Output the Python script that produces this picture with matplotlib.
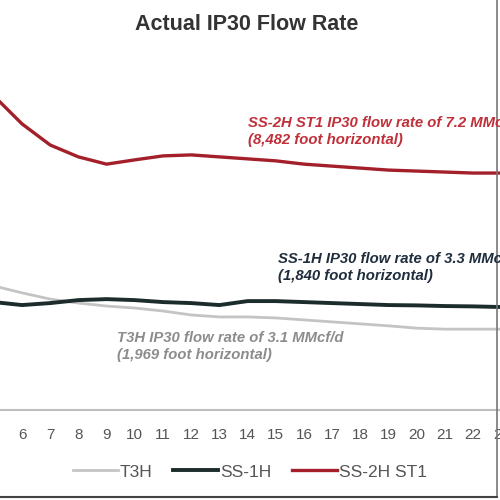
import matplotlib
matplotlib.use("Agg")
import matplotlib.pyplot as plt

plt.rcParams['font.family'] = ['Liberation Sans', 'DejaVu Sans']

# months on production (visible part of the chart)
months = [5, 6, 7, 8, 9, 10, 11, 12, 13, 14, 15, 16, 17, 18, 19, 20, 21, 22, 23]

# flow rate, MMcf/d
t3h = [3.76, 3.55, 3.36, 3.24, 3.15, 3.09, 3.00, 2.88, 2.82, 2.82, 2.79, 2.73,
       2.67, 2.61, 2.55, 2.48, 2.45, 2.45, 2.45]
ss1h = [3.27, 3.18, 3.24, 3.33, 3.36, 3.33, 3.27, 3.24, 3.18, 3.30, 3.30, 3.27,
        3.24, 3.21, 3.18, 3.17, 3.15, 3.14, 3.12]
ss2h = [9.52, 8.67, 8.03, 7.67, 7.45, 7.58, 7.70, 7.73, 7.67, 7.61, 7.55, 7.45,
        7.39, 7.33, 7.27, 7.24, 7.21, 7.18, 7.18]

series_names = ['T3H', 'SS-1H', 'SS-2H ST1']

notes = [
    ('SS-2H ST1 IP30 flow rate of 7.2 MMcf/d\n(8,482 foot horizontal)', 248, 116, '#c0303a'),
    ('SS-1H IP30 flow rate of 3.3 MMcf/d\n(1,840 foot horizontal)', 278, 252, '#1f2d3d'),
    ('T3H IP30 flow rate of 3.1 MMcf/d\n(1,969 foot horizontal)', 117, 331, '#8c8c8c'),
]

fig = plt.figure(figsize=(5, 5), dpi=100)
# plot area runs past the left and right edges, like the cropped original
ax = fig.add_axes([-0.0406, 0.18, 1.0716, 0.82])
ax.set_xlim(4.5, 23.5)
ax.set_ylim(0, 410 / 33)

ax.plot(months, t3h, color='#c4c4c4', lw=2.0, label=series_names[0])
ax.plot(months, ss1h, color='#1c2b2b', lw=2.8, label=series_names[1])
ax.plot(months, ss2h, color='#a3202a', lw=2.4, label=series_names[2])

ax.set_xticks(months)
ax.set_yticks([])
ax.tick_params(axis='x', length=0, labelsize=11, labelcolor='#555555', pad=13)
for s in ['top', 'left', 'right']:
    ax.spines[s].set_visible(False)
ax.spines['bottom'].set_color('#bfbfbf')
ax.spines['bottom'].set_linewidth(1.5)

fig.text(0.494, 1 - 25 / 500, 'Actual IP30 Flow Rate', ha='center', va='center',
         fontsize=15.5, fontweight='bold', color='#333333')

for txt, px, py, c in notes:
    fig.text(px / 500, 1 - py / 500, txt, ha='left', va='top', fontsize=10.7,
             style='italic', fontweight='bold', color=c, linespacing=1.25)

fig.legend(loc='center', bbox_to_anchor=(0.5, 1 - 472 / 500), ncol=3, frameon=False,
           fontsize=12.5, handlelength=2.6, handletextpad=0.1, columnspacing=1.2,
           labelcolor='#555555')

# frame of the original image
fig.add_artist(plt.Line2D([0.994, 0.994], [0.006, 1], transform=fig.transFigure,
                          color='#777777', lw=1.2))
fig.add_artist(plt.Line2D([0, 0.994], [0.006, 0.006], transform=fig.transFigure,
                          color='#444444', lw=1.5))

fig.savefig('out.png', dpi=100)
